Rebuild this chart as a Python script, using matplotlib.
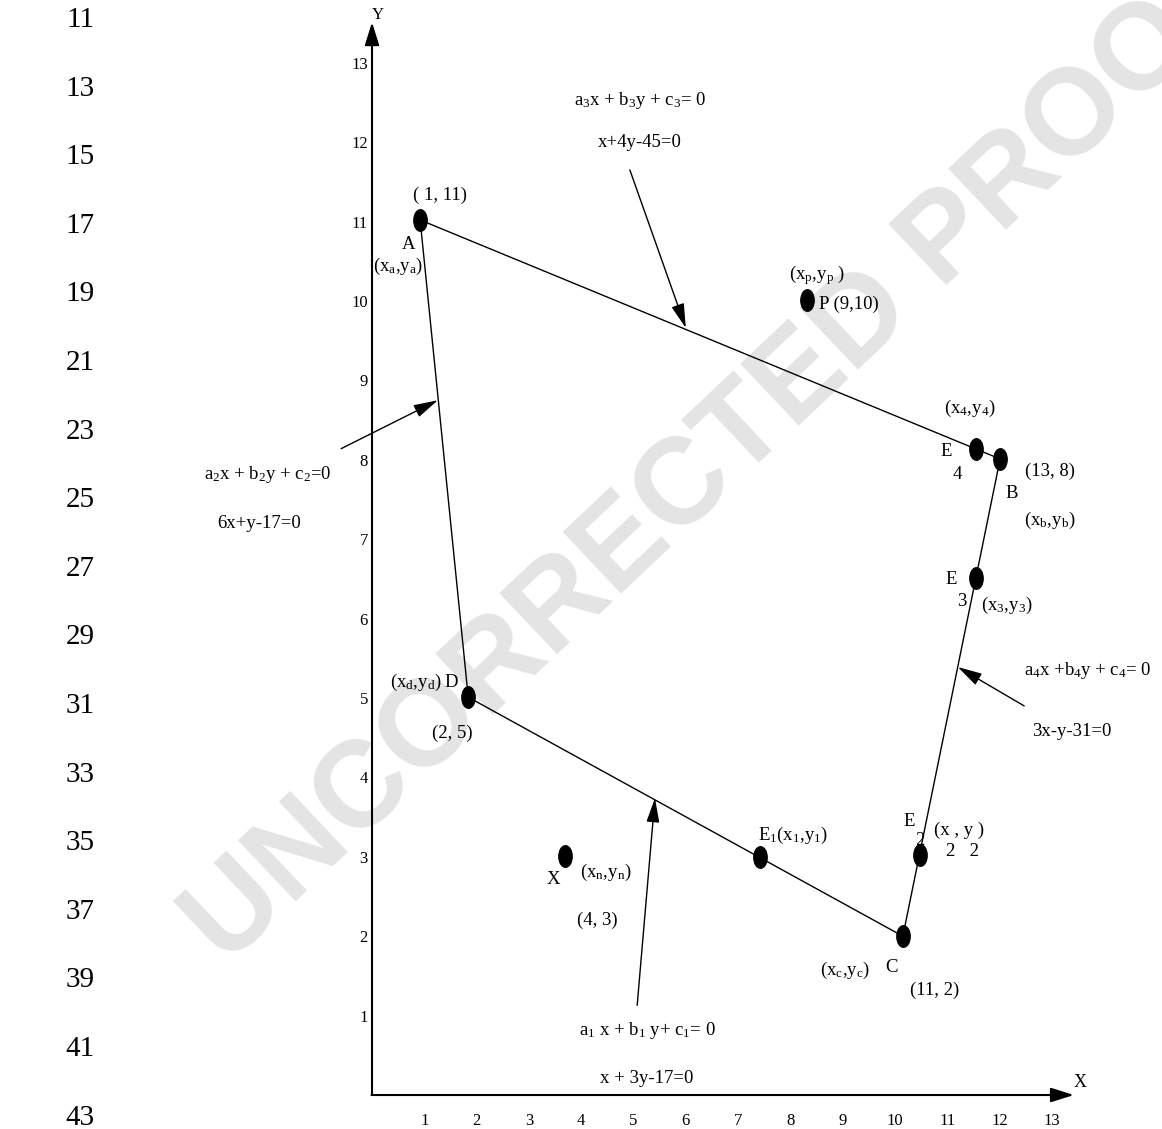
import numpy as np
import matplotlib
matplotlib.use('Agg')
import matplotlib.pyplot as plt
from matplotlib.path import Path
from matplotlib.transforms import Affine2D

plt.rcParams['font.family'] = 'Liberation Serif'
plt.rcParams['mathtext.default'] = 'regular'

# polygon corners A, B, C, D (as drawn)
corner_names = ['A', 'B', 'C', 'D']
corner_x = [0.92, 12.01, 10.15, 1.84]
corner_y = [11.02, 8.01, 2.00, 5.01]

# extra points: E1..E4, X, P
point_names = ['E1', 'E2', 'E3', 'E4', 'X', 'P']
point_x = [7.42, 10.47, 11.55, 11.55, 3.69, 8.32]
point_y = [3.00, 3.02, 6.51, 8.14, 3.01, 10.01]

# callout arrows pointing at the edges (tail -> head)
arrow_tail = [(4.93, 11.65), (-0.59, 8.14), (5.07, 1.13), (12.47, 4.90)]
arrow_head = [(6.00, 9.66), (1.26, 8.75), (5.41, 3.74), (11.20, 5.39)]

ticks = list(range(1, 14))
page_lines = list(range(11, 45, 2))

fig = plt.figure(figsize=(11.62, 11.29), dpi=100)
ax = fig.add_axes([0, 0, 1, 1])
ax.set_xlim(-7.113, 15.105)
ax.set_ylim(-0.428, 13.79)

# axes with arrow heads
ax.spines[['top', 'right']].set_visible(False)
ax.spines['left'].set_position(('data', 0))
ax.spines['bottom'].set_position(('data', 0))
ax.spines['left'].set_visible(False)
ax.spines['bottom'].set_visible(False)
ax.set_xticks(ticks)
ax.set_yticks(ticks)
ax.tick_params(axis='x', length=0, pad=13, labelsize=12)
ax.tick_params(axis='y', length=0, pad=3, labelsize=12)
ax.annotate('', xy=(0, 13.51), xytext=(0, 0),
            arrowprops=dict(arrowstyle='-|>,head_length=0.7,head_width=0.22',
                            mutation_scale=20, lw=1.5, color='black',
                            shrinkA=0, shrinkB=0))
ax.annotate('', xy=(13.42, 0), xytext=(-0.01, 0),
            arrowprops=dict(arrowstyle='-|>,head_length=0.7,head_width=0.22',
                            mutation_scale=20, lw=1.5, color='black',
                            shrinkA=0, shrinkB=0))
ax.text(0.11, 13.60, 'Y', fontsize=12, ha='center', va='center')
ax.text(13.54, 0.16, 'X', fontsize=13, ha='center', va='center')

# watermark
ax.text(6.65, 8.04, 'UNCORRECTED PROOF', fontsize=88, fontweight='bold',
        family='Liberation Sans', color='#e4e4e4', rotation=43.4,
        rotation_mode='anchor', ha='center', va='center', zorder=0)

# polygon edges
ax.plot(corner_x + corner_x[:1], corner_y + corner_y[:1], color='black', lw=1.0, zorder=2)

# elliptical dots
ell = Path.unit_circle().transformed(Affine2D().scale(0.62, 1.0))
ax.plot(corner_x + point_x, corner_y + point_y, linestyle='none', marker=ell,
        markersize=15.5, color='black', zorder=3)

for t, h in zip(arrow_tail, arrow_head):
    ax.annotate('', xy=h, xytext=t,
                arrowprops=dict(arrowstyle='-|>,head_length=0.75,head_width=0.2',
                                mutation_scale=20, lw=1.0, color='black',
                                shrinkA=0, shrinkB=0))

fs = 13.5
labels = [
    (5.12, 12.53, r'a$_3$x + b$_3$y + c$_3$= 0'),
    (5.12, 11.99, 'x+4y-45=0'),
    (1.30, 11.33, '( 1, 11)'),
    (0.69, 10.71, 'A'),
    (0.50, 10.43, r'(x$_a$,y$_a$)'),
    (8.51, 10.33, r'(x$_p$,y$_p$ )'),
    (11.43, 8.65, r'(x$_4$,y$_4$)'),
    (10.98, 8.10, 'E'),
    (11.19, 7.82, '4'),
    (12.96, 7.85, '(13, 8)'),
    (12.24, 7.57, 'B'),
    (12.96, 7.24, r'(x$_b$,y$_b$)'),
    (11.07, 6.49, 'E'),
    (11.28, 6.21, '3'),
    (12.14, 6.17, r'(x$_3$,y$_3$)'),
    (13.69, 5.34, r'a$_4$x +b$_4$y + c$_4$= 0'),
    (13.38, 4.58, '3x-y-31=0'),
    (10.27, 3.44, 'E'),
    (10.48, 3.21, '2'),
    (11.22, 3.33, '(x , y )'),
    (11.30, 3.07, '2   2'),
    (8.05, 3.27, r'E$_1$(x$_1$,y$_1$)'),
    (9.04, 1.57, r'(x$_c$,y$_c$)'),
    (9.94, 1.60, 'C'),
    (10.76, 1.32, '(11, 2)'),
    (1.01, 5.19, r'(x$_d$,y$_d$) D'),
    (1.53, 4.56, '(2, 5)'),
    (3.46, 2.71, 'X'),
    (4.46, 2.80, r'(x$_n$,y$_n$)'),
    (4.30, 2.20, '(4, 3)'),
    (-1.99, 7.81, r'a$_2$x + b$_2$y + c$_2$=0'),
    (-2.16, 7.20, '6x+y-17=0'),
    (5.26, 0.81, r'a$_1$ x + b$_1$ y+ c$_1$= 0'),
    (5.26, 0.21, 'x + 3y-17=0'),
]
for x, y, s in labels:
    ax.text(x, y, s, fontsize=fs, ha='center', va='center')
ax.text(8.55, 9.96, 'P (9,10)', fontsize=fs, ha='left', va='center')

# page line numbers
for i, n in enumerate(page_lines):
    fig.text(0.069, 1 - (20 + 68.6 * i) / 1129, str(n), fontsize=21,
             ha='center', va='center')

plt.savefig('out.png', dpi=100)
